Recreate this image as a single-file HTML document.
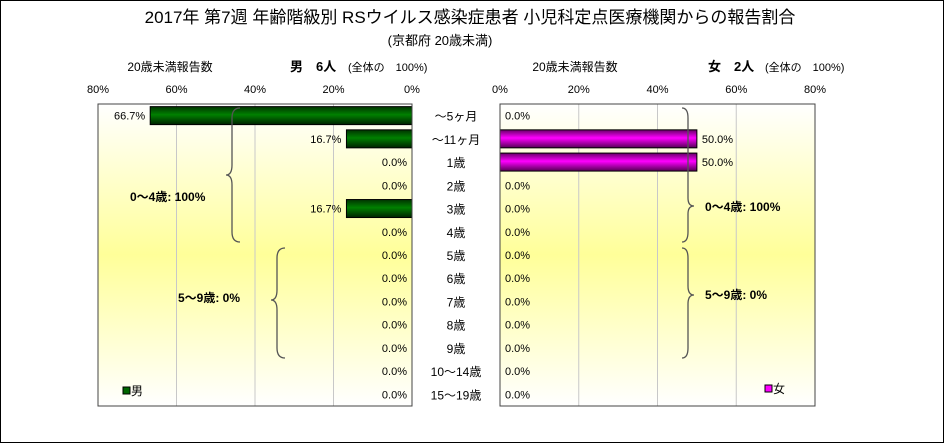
<!DOCTYPE html>
<html><head><meta charset="utf-8">
<style>
body{margin:0;background:#fff;width:944px;height:443px;overflow:hidden;font-family:"Liberation Sans","Noto Sans CJK JP",sans-serif}
text{font-family:"Liberation Sans","Noto Sans CJK JP",sans-serif}
</style></head><body>
<svg id="chart" width="944" height="443" xmlns="http://www.w3.org/2000/svg">
<defs>
<linearGradient id="bg" x1="0" y1="0" x2="0" y2="1">
<stop offset="0" stop-color="#ffffff"/><stop offset="0.5" stop-color="#ffff99"/><stop offset="1" stop-color="#ffffff"/>
</linearGradient>
<linearGradient id="gbar" x1="0" y1="0" x2="0" y2="1">
<stop offset="0" stop-color="#003300"/><stop offset="0.45" stop-color="#008000"/><stop offset="1" stop-color="#002200"/>
</linearGradient>
<linearGradient id="pbar" x1="0" y1="0" x2="0" y2="1">
<stop offset="0" stop-color="#660066"/><stop offset="0.45" stop-color="#ff00ff"/><stop offset="1" stop-color="#550055"/>
</linearGradient>
</defs>
<rect x="0.5" y="0.5" width="943" height="442" fill="#fff" stroke="#000"/>
<text x="470" y="23" font-size="17" text-anchor="middle">2017年 第7週 年齢階級別 RSウイルス感染症患者 小児科定点医療機関からの報告割合</text>
<text x="440" y="45" font-size="13" text-anchor="middle">(京都府 20歳未満)</text>
<text x="170" y="71" font-size="12" text-anchor="middle">20歳未満報告数</text>
<text x="290" y="71" font-size="13" font-weight="bold">男　6人</text>
<text x="348" y="71" font-size="11">(全体の　100%)</text>
<text x="575" y="71" font-size="12" text-anchor="middle">20歳未満報告数</text>
<text x="708" y="71" font-size="13" font-weight="bold">女　2人</text>
<text x="765" y="71" font-size="11">(全体の　100%)</text>
<rect x="98" y="104" width="314" height="302" fill="url(#bg)"/>
<rect x="500" y="104" width="315" height="302" fill="url(#bg)"/>
<g id="grid"></g>
<g id="bars"></g>
<rect x="98" y="104" width="314" height="302" fill="none" stroke="#444"/>
<rect x="500" y="104" width="315" height="302" fill="none" stroke="#444"/>
<g fill="none" stroke="#555" stroke-width="1.3">
<path d="M240,108 Q232,108 232,118 L232,165 Q232,175 226,175 Q232,175 232,185 L232,232 Q232,242 240,242"/>
<path d="M285,248 Q277,248 277,258 L277,290 Q277,300 271,300 Q277,300 277,310 L277,348 Q277,358 285,358"/>
<path d="M682,108 Q688,108 688,118 L688,198 Q688,206 694,206 Q688,206 688,214 L688,232 Q688,242 682,242"/>
<path d="M682,248 Q688,248 688,258 L688,286 Q688,295 694,295 Q688,295 688,304 L688,348 Q688,358 682,358"/>
</g>
<text x="130" y="201" font-size="12" font-weight="bold">0～4歳: 100%</text>
<text x="178" y="302" font-size="12" font-weight="bold">5～9歳: 0%</text>
<text x="705" y="211" font-size="12" font-weight="bold">0～4歳: 100%</text>
<text x="705" y="299" font-size="12" font-weight="bold">5～9歳: 0%</text>
<rect x="123" y="387" width="7" height="7" fill="#006600" stroke="#000"/>
<text x="131" y="395" font-size="12">男</text>
<rect x="765" y="385" width="7" height="7" fill="#ff00ff" stroke="#000"/>
<text x="773" y="393" font-size="12">女</text>
</svg>
<script>
const categories=["～5ヶ月","～11ヶ月","1歳","2歳","3歳","4歳","5歳","6歳","7歳","8歳","9歳","10～14歳","15～19歳"];
const maleValues=[66.7,16.7,0,0,16.7,0,0,0,0,0,0,0,0];
const femaleValues=[0,50,50,0,0,0,0,0,0,0,0,0,0];
const tickValues=[0,20,40,60,80];
const NS="http://www.w3.org/2000/svg";
const plotTop=104,plotBottom=406,band=(plotBottom-plotTop)/categories.length,barH=18;
const xMale=v=>412-v/80*314;
const xFemale=v=>500+v/80*315;
const yBand=i=>plotTop+i*band;
function mk(tag,attrs,parent){const e=document.createElementNS(NS,tag);for(const k in attrs)e.setAttribute(k,attrs[k]);parent.appendChild(e);return e;}
const grid=document.getElementById('grid'),bars=document.getElementById('bars'),svg=document.getElementById('chart');
tickValues.forEach(t=>{
  const gx=xMale(t);
  if(t>0&&t<80){const l=mk('line',{x1:gx,x2:gx,y1:plotTop,y2:plotBottom,stroke:'#c8c8c8'},grid);
  
  }
  const tx=mk('text',{x:gx,y:93,'font-size':11,'text-anchor':'middle'},svg);tx.textContent=t+'%';
  
  
  const fx=xFemale(t);
  if(t>0&&t<80){const l2=mk('line',{x1:fx,x2:fx,y1:plotTop,y2:plotBottom,stroke:'#c8c8c8'},grid);
  
  }
  const tx2=mk('text',{x:fx,y:93,'font-size':11,'text-anchor':'middle'},svg);tx2.textContent=t+'%';
  
  
});
categories.forEach((c,i)=>{
  const cy=yBand(i)+band/2;
  const lab=mk('text',{x:456,y:cy+5,'font-size':12,'text-anchor':'middle'},svg);lab.textContent=c;
  
  
  const mv=maleValues[i];
  if(mv>0){const r=mk('rect',{x:xMale(mv),y:cy-barH/2,width:412-xMale(mv),height:barH,fill:'url(#gbar)',stroke:'#000'},bars);
  
  }
  const ml=mk('text',{x:xMale(mv)-5,y:cy+4,'font-size':11,'text-anchor':'end'},svg);ml.textContent=mv.toFixed(1)+'%';
  
  
  const fv=femaleValues[i];
  if(fv>0){const r2=mk('rect',{x:500,y:cy-barH/2,width:xFemale(fv)-500,height:barH,fill:'url(#pbar)',stroke:'#000'},bars);
  
  }
  const fl=mk('text',{x:xFemale(fv)+5,y:cy+4,'font-size':11},svg);fl.textContent=fv.toFixed(1)+'%';
  
  
});
</script>
</body></html>
